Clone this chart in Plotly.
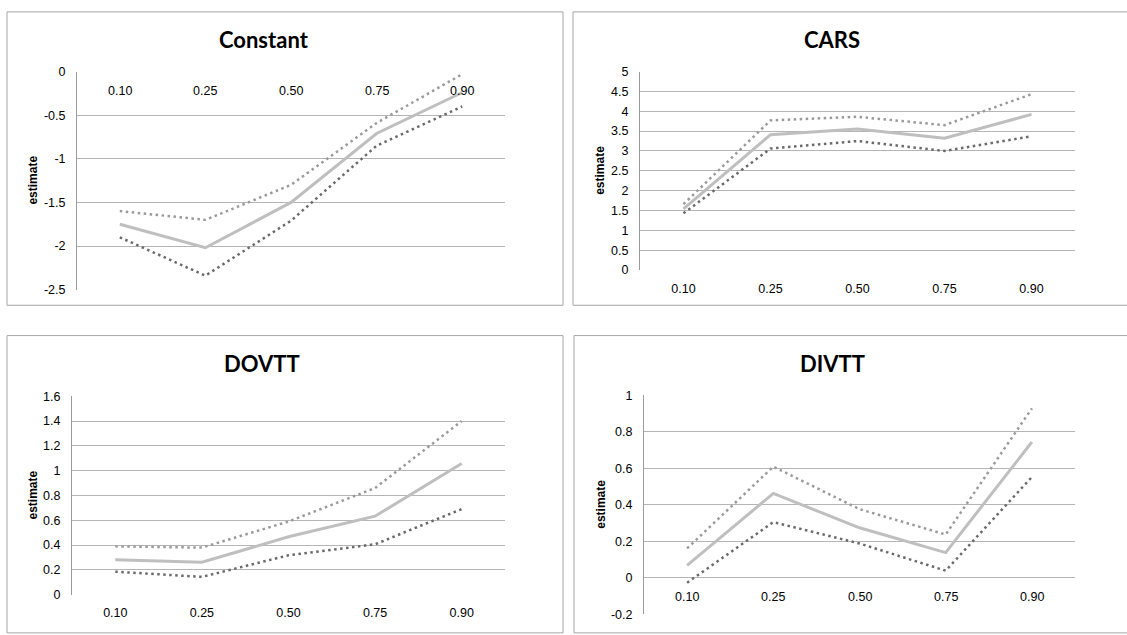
import plotly.graph_objects as go

quantiles = ["0.10", "0.25", "0.50", "0.75", "0.90"]

const_est = [-1.75, -2.02, -1.50, -0.71, -0.24]
const_hi = [-1.60, -1.70, -1.30, -0.59, -0.03]
const_lo = [-1.90, -2.34, -1.71, -0.85, -0.40]

cars_est = [1.54, 3.41, 3.55, 3.32, 3.92]
cars_hi = [1.66, 3.77, 3.86, 3.65, 4.43]
cars_lo = [1.43, 3.06, 3.25, 3.00, 3.37]

dovtt_est = [0.283, 0.262, 0.467, 0.633, 1.058]
dovtt_hi = [0.39, 0.38, 0.59, 0.86, 1.40]
dovtt_lo = [0.186, 0.144, 0.318, 0.407, 0.69]

divtt_est = [0.068, 0.462, 0.274, 0.138, 0.744]
divtt_hi = [0.161, 0.609, 0.376, 0.237, 0.928]
divtt_lo = [-0.027, 0.305, 0.188, 0.039, 0.552]

const_ticks = [0, -0.5, -1, -1.5, -2, -2.5]
const_ticktext = ["0", "-0.5", "-1", "-1.5", "-2", "-2.5"]
cars_ticks = [0, 0.5, 1, 1.5, 2, 2.5, 3, 3.5, 4, 4.5, 5]
cars_ticktext = ["0", "0.5", "1", "1.5", "2", "2.5", "3", "3.5", "4", "4.5", "5"]
dovtt_ticks = [0, 0.2, 0.4, 0.6, 0.8, 1.0, 1.2, 1.4, 1.6]
dovtt_ticktext = ["0", "0.2", "0.4", "0.6", "0.8", "1", "1.2", "1.4", "1.6"]
divtt_ticks = [-0.2, 0, 0.2, 0.4, 0.6, 0.8, 1.0]
divtt_ticktext = ["-0.2", "0", "0.2", "0.4", "0.6", "0.8", "1"]

W, H = 1127, 635

def px_x(p):
    return p / W

def px_y(p):
    return 1 - p / H

panels = [
    dict(title="Constant", est=const_est, hi=const_hi, lo=const_lo, yr=[-2.5, 0],
         tv=const_ticks, tt=const_ticktext, xd=(77, 505), yd=(66, 289),
         box=(7, 5, 563, 305), tpos=(264, 33), ytx=33, inside=True),
    dict(title="CARS", est=cars_est, hi=cars_hi, lo=cars_lo, yr=[0, 5],
         tv=cars_ticks, tt=cars_ticktext, xd=(640, 1075), yd=(66, 269),
         box=(573, 5, 1131, 305), tpos=(832, 33), ytx=600, inside=False),
    dict(title="DOVTT", est=dovtt_est, hi=dovtt_hi, lo=dovtt_lo, yr=[0, 1.6],
         tv=dovtt_ticks, tt=dovtt_ticktext, xd=(72, 505), yd=(398, 601),
         box=(7, 336, 563, 640), tpos=(262, 365), ytx=33, inside=False),
    dict(title="DIVTT", est=divtt_est, hi=divtt_hi, lo=divtt_lo, yr=[-0.2, 1.0],
         tv=divtt_ticks, tt=divtt_ticktext, xd=(644, 1075), yd=(397, 621),
         box=(574, 336, 1131, 640), tpos=(832, 365), ytx=601, inside=True),
]

fig = go.Figure()
shapes = []
annotations = []
layout_axes = {}

tick_font = dict(family="Liberation Sans, Arial, sans-serif", size=12.5, color="#000000")

for i, p in enumerate(panels):
    n = i + 1
    xa = "x" if n == 1 else f"x{n}"
    ya = "y" if n == 1 else f"y{n}"
    xkey = "xaxis" if n == 1 else f"xaxis{n}"
    ykey = "yaxis" if n == 1 else f"yaxis{n}"

    fig.add_trace(go.Scatter(x=quantiles, y=p["hi"], mode="lines", xaxis=xa, yaxis=ya,
                             line=dict(color="#9a9a9a", width=2.5, dash="2.5px,3.5px"),
                             showlegend=False, hoverinfo="skip"))
    fig.add_trace(go.Scatter(x=quantiles, y=p["lo"], mode="lines", xaxis=xa, yaxis=ya,
                             line=dict(color="#6a6a6a", width=2.5, dash="2.5px,3.5px"),
                             showlegend=False, hoverinfo="skip"))
    fig.add_trace(go.Scatter(x=quantiles, y=p["est"], mode="lines", xaxis=xa, yaxis=ya,
                             line=dict(color="#bfbfbf", width=3),
                             showlegend=False, hoverinfo="skip"))

    x0, x1 = p["xd"]
    y0, y1 = p["yd"]
    layout_axes[xkey] = dict(
        domain=[px_x(x0), px_x(x1)], anchor=ya, type="category",
        range=[-0.5, 4.5], showgrid=False, zeroline=False, showline=False,
        ticks="", showticklabels=not p["inside"], tickfont=tick_font,
        ticklabelstandoff=9, fixedrange=True,
    )
    layout_axes[ykey] = dict(
        domain=[px_y(y1), px_y(y0)], anchor=xa, range=p["yr"],
        tickvals=p["tv"], ticktext=p["tt"], showgrid=True, gridcolor="#b5b5b5",
        gridwidth=1, zeroline=False, showline=True, linecolor="#9a9a9a", linewidth=1,
        ticks="", tickfont=tick_font, ticklabelstandoff=8, fixedrange=True,
    )

    if p["inside"]:
        for k, q in enumerate(quantiles):
            annotations.append(dict(x=k, y=0, xref=xa, yref=ya, text=q, showarrow=False,
                                    yanchor="top", yshift=-10, font=tick_font))

    bx0, by0, bx1, by1 = p["box"]
    shapes.append(dict(type="rect", xref="paper", yref="paper",
                       x0=px_x(bx0), x1=px_x(bx1), y0=px_y(by1), y1=px_y(by0),
                       line=dict(color="#a6a6a6", width=1), layer="below"))

    tx, ty = p["tpos"]
    annotations.append(dict(x=px_x(tx), y=px_y(ty), xref="paper", yref="paper",
                            text=f"<b>{p['title']}</b>", showarrow=False,
                            xanchor="center", yanchor="middle",
                            font=dict(family="Lato, sans-serif", size=22, color="#000000")))
    annotations.append(dict(x=px_x(p["ytx"]), y=px_y((y0 + y1) / 2), xref="paper", yref="paper",
                            text="<b>estimate</b>", showarrow=False, textangle=-90,
                            xanchor="center", yanchor="middle",
                            font=dict(family="Liberation Sans, Arial, sans-serif", size=12, color="#000000")))

fig.update_layout(
    width=W, height=H, margin=dict(l=0, r=0, t=0, b=0),
    paper_bgcolor="#ffffff", plot_bgcolor="#ffffff",
    shapes=shapes, annotations=annotations, showlegend=False,
    **layout_axes,
)

fig.write_html("out.html", config={"displayModeBar": False})
